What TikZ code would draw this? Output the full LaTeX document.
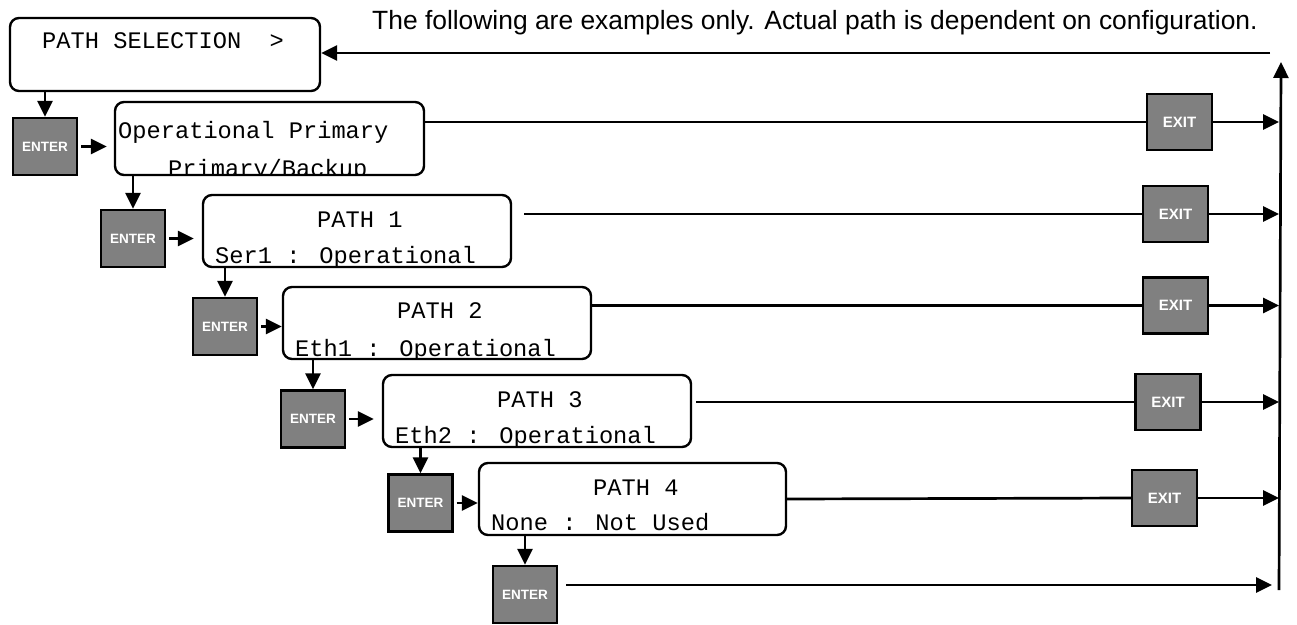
\documentclass[tikz,border=0pt]{standalone}
\usepackage{fontspec}
\setmainfont{Liberation Sans}
\newfontfamily\monofont{Liberation Mono}
\usetikzlibrary{arrows.meta,calc}
\definecolor{keygray}{HTML}{808080}
\tikzset{
 dispbox/.style={draw=black, line width=2.4pt, rounded corners=9pt, inner sep=0pt},
 keybox/.style={draw=black, line width=2.4pt, fill=keygray, text=white, inner sep=0pt, minimum width=64pt, minimum height=57pt},
 enterkey/.style={keybox, font=\fontsize{13.5}{13.5}\selectfont\bfseries},
 exitkey/.style={keybox, minimum width=65pt, minimum height=56pt, font=\fontsize{15}{15}\selectfont\bfseries},
 mono/.style={font=\fontsize{23.7}{24}\monofont, inner sep=0pt, anchor=base west},
 arr/.style={line width=2.7pt, -{Triangle[length=16pt,width=15pt]}},
 plain/.style={line width=2.7pt},
}
\begin{document}
\begin{tikzpicture}[x=1pt,y=-1pt]
\useasboundingbox (0,0) rectangle (1297,624);

% heading
\node[font=\fontsize{26.4}{26.4}\selectfont, anchor=base west, inner sep=0pt] (note) at (372,29) {The following are examples only. Actual path is dependent on configuration.};

% display texts (clipped to their boxes)
\node[mono] (tsel) at (42,48) {PATH SELECTION\ \ >};
\begin{scope}
\clip[rounded corners=9pt] (115,102) rectangle (424,175);
\node[mono] (t0a) at (118,138) {Operational Primary};
\node[mono] (t0b) at (168,176) {Primary/Backup};
\end{scope}
\begin{scope}
\clip[rounded corners=9pt] (203,195) rectangle (511,267);
\node[mono] (t1a) at (317,227) {PATH 1};
\node[mono] (t1b) at (215,263) {Ser1 : Operational};
\end{scope}
\begin{scope}
\clip[rounded corners=9pt] (283,287) rectangle (591,359);
\node[mono] (t2a) at (397,318) {PATH 2};
\node[mono] (t2b) at (295,356) {Eth1 : Operational};
\end{scope}
\begin{scope}
\clip[rounded corners=9pt] (383,375) rectangle (691,447);
\node[mono] (t3a) at (497,407) {PATH 3};
\node[mono] (t3b) at (395,443) {Eth2 : Operational};
\end{scope}
\begin{scope}
\clip[rounded corners=9pt] (479,463) rectangle (786,535);
\node[mono] (t4a) at (593,495) {PATH 4};
\node[mono] (t4b) at (491,530) {None : Not Used};
\end{scope}

% display boxes
\node[dispbox, minimum width=310pt, minimum height=73pt] (sel) at (165,54.5) {};
\node[dispbox, minimum width=309pt, minimum height=73pt] (b0) at (269.5,138.5) {};
\node[dispbox, minimum width=308pt, minimum height=72pt] (b1) at (357,231) {};
\node[dispbox, minimum width=308pt, minimum height=72pt] (b2) at (437,323) {};
\node[dispbox, minimum width=308pt, minimum height=72pt] (b3) at (537,411) {};
\node[dispbox, minimum width=307pt, minimum height=72pt] (b4) at (632.5,499) {};

% ENTER keys
\node[enterkey] (e1) at (45,146.5) {ENTER};
\node[enterkey] (e2) at (133,238.5) {ENTER};
\node[enterkey] (e3) at (225,326.5) {ENTER};
\node[enterkey] (e4) at (313,419) {ENTER};
\node[enterkey] (e5) at (420.5,503) {ENTER};
\node[enterkey] (e6) at (525,594.5) {ENTER};

% EXIT keys
\node[exitkey] (x1) at (1179.5,122) {EXIT};
\node[exitkey] (x2) at (1175.5,214) {EXIT};
\node[exitkey] (x3) at (1175.5,305.5) {EXIT};
\node[exitkey] (x4) at (1168,402) {EXIT};
\node[exitkey] (x5) at (1164.5,498) {EXIT};

% return column
\coordinate (vb) at (1279,590);
\coordinate (vt) at (1281,62);
\coordinate (rt) at (1270,53);
\coordinate (r6) at (1272,585);
\draw[arr] (vb) -- (vt);
\draw[arr] (rt) -- (rt -| sel.east);

% down arrows
\draw[arr] (sel.south -| e1) -- (e1.north);
\draw[arr] (b0.south -| e2) -- (e2.north);
\draw[arr] (b1.south -| e3) -- (e3.north);
\draw[arr] (b2.south -| e4) -- (e4.north);
\draw[arr] (b3.south -| e5) -- (e5.north);
\draw[arr] (b4.south -| e6) -- (e6.north);

% enter -> display
\draw[arr, shorten <=3pt, shorten >=7pt] (e1.east) -- (e1.east -| b0.west);
\draw[arr, shorten <=3pt, shorten >=8pt] (e2.east) -- (e2.east -| b1.west);
\draw[arr, shorten <=3pt] (e3.east) -- (e3.east -| b2.west);
\draw[arr, shorten <=3pt, shorten >=8pt] (e4.east) -- (e4.east -| b3.west);
\draw[arr, shorten <=3pt] (e5.east) -- (e5.east -| b4.west);

% display -> exit
\draw[plain] (x1.west -| b0.east) -- (x1.west);
\draw[plain, shorten <=12pt] (x2.west -| b1.east) -- (x2.west);
\draw[plain] (x3.west -| b2.east) -- (x3.west);
\draw[plain, shorten <=4pt] (x4.west -| b3.east) -- (x4.west);
\draw[plain] (b4.east) -- (x5.west);

% exit -> return column
\draw[arr] (x1.east) -- (x1.east -| vb);
\draw[arr] (x2.east) -- (x2.east -| vb);
\draw[arr] (x3.east) -- (x3.east -| vb);
\draw[arr] (x4.east) -- (x4.east -| vb);
\draw[arr] (x5.east) -- (x5.east -| vb);

% last enter -> return column
\draw[arr, shorten <=8pt] (e6.east |- r6) -- (r6);
\end{tikzpicture}
\end{document}
